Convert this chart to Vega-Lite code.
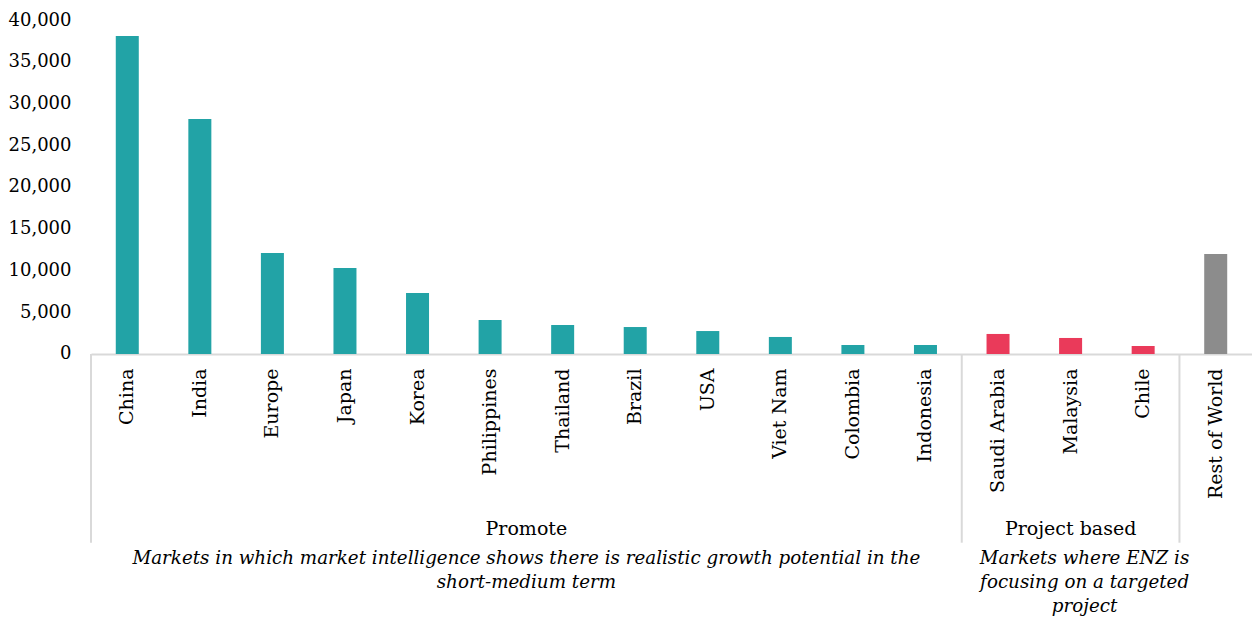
{
  "$schema": "https://vega.github.io/schema/vega-lite/v6.json",
  "width": 1161,
  "height": 606,
  "autosize": "none",
  "padding": {"left": 91, "top": 20, "right": 0, "bottom": 0},
  "background": "white",
  "config": {"view": {"stroke": null}, "font": "DejaVu Serif"},
  "datasets": {
    "markets": [
      {"market": "China", "value": 38080, "group": "Promote"},
      {"market": "India", "value": 28140, "group": "Promote"},
      {"market": "Europe", "value": 12100, "group": "Promote"},
      {"market": "Japan", "value": 10300, "group": "Promote"},
      {"market": "Korea", "value": 7300, "group": "Promote"},
      {"market": "Philippines", "value": 4070, "group": "Promote"},
      {"market": "Thailand", "value": 3470, "group": "Promote"},
      {"market": "Brazil", "value": 3230, "group": "Promote"},
      {"market": "USA", "value": 2750, "group": "Promote"},
      {"market": "Viet Nam", "value": 2040, "group": "Promote"},
      {"market": "Colombia", "value": 1080, "group": "Promote"},
      {"market": "Indonesia", "value": 1080, "group": "Promote"},
      {"market": "Saudi Arabia", "value": 2400, "group": "Project based"},
      {"market": "Malaysia", "value": 1920, "group": "Project based"},
      {"market": "Chile", "value": 960, "group": "Project based"},
      {"market": "Rest of World", "value": 11980, "group": "Other"}
    ],
    "seps": [
      {"market": "China"},
      {"market": "Saudi Arabia"},
      {"market": "Rest of World"}
    ],
    "promote": [
      {"market": "Thailand", "label": "Promote", "desc": "Markets in which market intelligence shows there is realistic growth potential in the\nshort-medium term"}
    ],
    "project": [
      {"market": "Malaysia", "label": "Project based", "desc": "Markets where ENZ is\nfocusing on a targeted\nproject"}
    ]
  },
  "layer": [
    {
      "data": {"name": "markets"},
      "mark": {"type": "bar", "width": {"band": 0.317}},
      "encoding": {
        "x": {
          "field": "market",
          "type": "nominal",
          "sort": null,
          "scale": {
            "domain": ["China", "India", "Europe", "Japan", "Korea", "Philippines", "Thailand", "Brazil", "USA", "Viet Nam", "Colombia", "Indonesia", "Saudi Arabia", "Malaysia", "Chile", "Rest of World"],
            "paddingInner": 0,
            "paddingOuter": 0
          },
          "axis": {
            "orient": "bottom",
            "offset": -272,
            "title": null,
            "domainColor": "#d9d9d9",
            "domainWidth": 2,
            "ticks": false,
            "labelAngle": -90,
            "labelPadding": 14,
            "labelFontSize": 19,
            "labelColor": "#000000",
            "labelFont": "DejaVu Serif"
          }
        },
        "y": {
          "field": "value",
          "type": "quantitative",
          "scale": {"domain": [-32575, 40000], "nice": false, "zero": false},
          "axis": {
            "values": [0, 5000, 10000, 15000, 20000, 25000, 30000, 35000, 40000],
            "format": ",.0f",
            "title": null,
            "domain": false,
            "ticks": false,
            "grid": false,
            "labelPadding": 20,
            "labelFontSize": 18,
            "labelColor": "#000000",
            "labelFont": "DejaVu Serif",
            "minExtent": 91,
            "maxExtent": 91
          }
        },
        "y2": {"datum": 0},
        "color": {
          "field": "group",
          "type": "nominal",
          "scale": {"domain": ["Promote", "Project based", "Other"], "range": ["#22a3a6", "#ea3a5a", "#8c8c8c"]},
          "legend": null
        }
      }
    },
    {
      "data": {"name": "seps"},
      "mark": {"type": "rule", "color": "#d9d9d9", "strokeWidth": 2},
      "encoding": {
        "x": {"field": "market", "type": "nominal", "sort": null, "bandPosition": 0},
        "y": {"datum": 0},
        "y2": {"datum": -22600}
      }
    },
    {
      "data": {"name": "promote"},
      "mark": {"type": "text", "fontSize": 19, "baseline": "middle", "align": "center", "color": "#000000"},
      "encoding": {
        "x": {"field": "market", "type": "nominal", "sort": null, "bandPosition": 0},
        "y": {"datum": -21000},
        "text": {"field": "label"}
      }
    },
    {
      "data": {"name": "promote"},
      "mark": {"type": "text", "fontSize": 18.3, "fontStyle": "italic", "baseline": "top", "align": "center", "lineBreak": "\n", "lineHeight": 24, "color": "#000000"},
      "encoding": {
        "x": {"field": "market", "type": "nominal", "sort": null, "bandPosition": 0},
        "y": {"datum": -23530},
        "text": {"field": "desc"}
      }
    },
    {
      "data": {"name": "project"},
      "mark": {"type": "text", "fontSize": 19, "baseline": "middle", "align": "center", "color": "#000000"},
      "encoding": {
        "x": {"field": "market", "type": "nominal", "sort": null, "bandPosition": 0.5},
        "y": {"datum": -21000},
        "text": {"field": "label"}
      }
    },
    {
      "data": {"name": "project"},
      "mark": {"type": "text", "fontSize": 18.3, "fontStyle": "italic", "baseline": "top", "align": "center", "lineBreak": "\n", "lineHeight": 24, "color": "#000000", "dx": 14},
      "encoding": {
        "x": {"field": "market", "type": "nominal", "sort": null, "bandPosition": 0.5},
        "y": {"datum": -23530},
        "text": {"field": "desc"}
      }
    }
  ]
}
